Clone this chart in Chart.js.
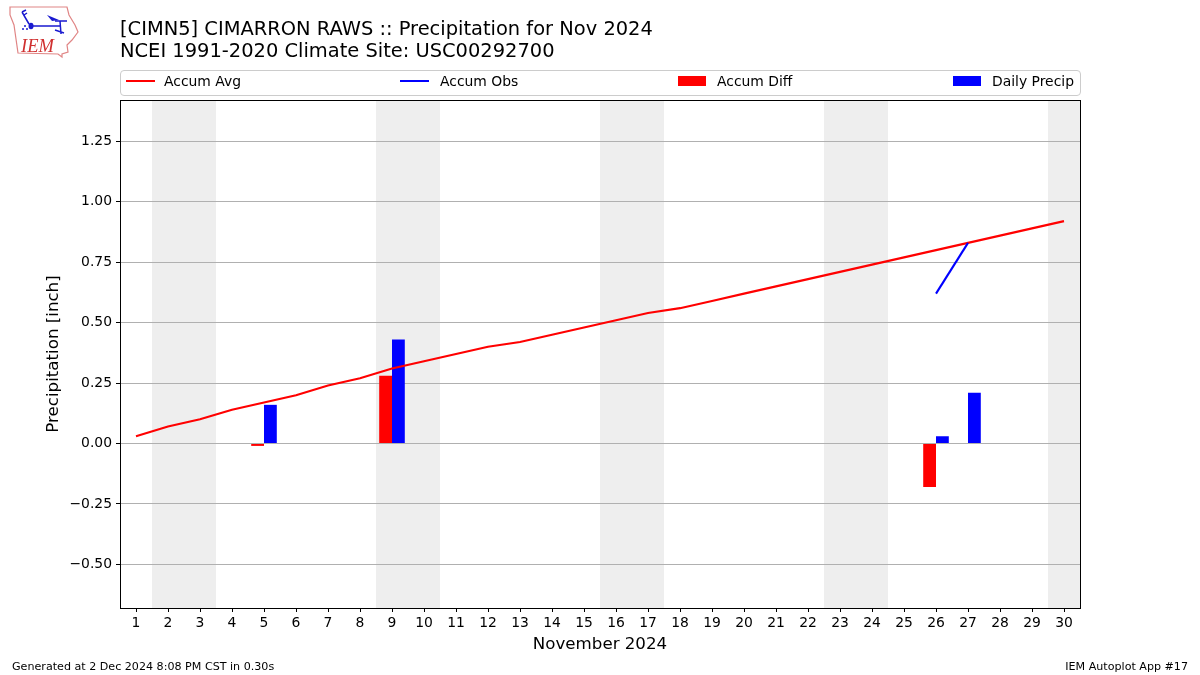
<!DOCTYPE html>
<html>
<head>
<meta charset="utf-8">
<title>CIMN5 Precipitation Nov 2024</title>
<script src="https://cdn.jsdelivr.net/npm/chart.js@4/dist/chart.umd.min.js"></script>
<style>
    body { margin: 0; background: #fff; font-family: "DejaVu Sans", sans-serif; color: #000; }
    #wrap { position: relative; width: 1200px; height: 675px; overflow: hidden; }
    #wrap canvas { position: absolute; left: 0; top: 0; }
    .abs { position: absolute; white-space: nowrap; }
    .title { left: 120px; font-size: 19.45px; line-height: 22px; }
    .foot { top: 660px; font-size: 11.11px; line-height: 13px; }
    #legend { left: 120px; top: 70px; width: 959px; height: 24px; border: 1px solid #ccc; border-radius: 4px; }
    .key { position: absolute; top: 2px; font-size: 13.9px; line-height: 17px; }
    .swatch { position: absolute; }
</style>
</head>
<body>
<div id="wrap">
    <canvas id="chart" width="1200" height="675"></canvas>

    <svg class="abs" style="left:0;top:0" width="90" height="62">
        <path d="M10 7 L67 7 L69 15 L75 25 L78 32 L72 40 L67 45 L68 52 L62 54 L62 57 L58 54 L18 53 L16 39 L14 25 L10 15 Z" fill="none" stroke="#e08585" stroke-width="1.2"/>
        <path d="M31 26 L60 26 M55 21 L67 21 M60 21 L61 34 M55 30 L64 33 M22 12 L29 24 M22 12 L26 10 M24 15 L27 13" stroke="#1a1ad0" stroke-width="1.5" fill="none"/>
        <path d="M47 15 L59 20 L52 21 Z" fill="#1a1ad0"/>
        <ellipse cx="31" cy="26" rx="2.5" ry="3.2" fill="#1a1ad0"/>
        <circle cx="25" cy="26" r="1" fill="#1a1ad0"/>
        <circle cx="23" cy="29" r="1" fill="#1a1ad0"/>
        <circle cx="27" cy="29" r="1" fill="#1a1ad0"/>
        <text x="21" y="52" font-family="Liberation Serif" font-style="italic" font-size="18.5" fill="#d03030">IEM</text>
    </svg>

    <div class="abs title" style="top:18px">[CIMN5] CIMARRON RAWS :: Precipitation for Nov 2024</div>
    <div class="abs title" style="top:40px">NCEI 1991-2020 Climate Site: USC00292700</div>

    <div class="abs" id="legend">
        <div class="swatch" style="left:5px;top:9px;width:29px;height:2px;background:#f00"></div>
        <div class="key" style="left:43px">Accum Avg</div>
        <div class="swatch" style="left:279px;top:9px;width:29px;height:2px;background:#00f"></div>
        <div class="key" style="left:319px">Accum Obs</div>
        <div class="swatch" style="left:557px;top:5px;width:28px;height:10px;background:#f00"></div>
        <div class="key" style="left:596px">Accum Diff</div>
        <div class="swatch" style="left:832px;top:5px;width:28px;height:10px;background:#00f"></div>
        <div class="key" style="left:871px">Daily Precip</div>
    </div>

    <div class="abs foot" style="left:12px">Generated at 2 Dec 2024 8:08 PM CST in 0.30s</div>
    <div class="abs foot" style="right:12px">IEM Autoplot App #17</div>
</div>

<script>
const days = ["1", "2", "3", "4", "5", "6", "7", "8", "9", "10", "11", "12", "13", "14", "15",
    "16", "17", "18", "19", "20", "21", "22", "23", "24", "25", "26", "27", "28", "29", "30"];
const accumAvg = [0.03, 0.07, 0.10, 0.14, 0.17, 0.20, 0.24, 0.27, 0.31, 0.34, 0.37, 0.40, 0.42, 0.45, 0.48,
    0.51, 0.54, 0.56, 0.59, 0.62, 0.65, 0.68, 0.71, 0.74, 0.77, 0.80, 0.83, 0.86, 0.89, 0.92];
const accumObs = [null, null, null, null, null, null, null, null, null, null, null, null, null, null, null,
    null, null, null, null, null, null, null, null, null, null, 0.62, 0.83, null, null, null];
const accumDiff = [null, null, null, null, -0.01, null, null, null, 0.28, null, null, null, null, null, null,
    null, null, null, null, null, null, null, null, null, null, -0.18, null, null, null, null];
const dailyPrecip = [null, null, null, null, 0.16, null, null, null, 0.43, null, null, null, null, null, null,
    null, null, null, null, null, null, null, null, null, null, 0.03, 0.21, null, null, null];
const weekends = [["2", "3"], ["9", "10"], ["16", "17"], ["23", "24"], ["30", "30"]];

const FONT = "'DejaVu Sans'";
Chart.defaults.color = "#000";
Chart.defaults.font.family = FONT;

// grey weekend bands go under the grid
const weekendBands = {
    id: "weekendBands",
    beforeDraw(chart) {
        const { ctx, chartArea, scales } = chart;
        const half = (scales.x.getPixelForValue(1) - scales.x.getPixelForValue(0)) / 2;
        ctx.save();
        ctx.fillStyle = "#eeeeee";
        weekends.forEach(([from, to]) => {
            const left = scales.x.getPixelForValue(days.indexOf(from)) - half;
            const right = Math.min(scales.x.getPixelForValue(days.indexOf(to)) + half, chartArea.right);
            ctx.fillRect(left, chartArea.top, right - left, chartArea.bottom - chartArea.top);
        });
        ctx.restore();
    }
};

const frame = {
    id: "frame",
    afterDraw(chart) {
        const { ctx, chartArea } = chart;
        ctx.save();
        ctx.strokeStyle = "#000";
        ctx.lineWidth = 1;
        ctx.strokeRect(chartArea.left + 0.5, chartArea.top + 0.5, chartArea.right - chartArea.left, chartArea.bottom - chartArea.top);
        ctx.restore();
    }
};

new Chart(document.getElementById("chart"), {
    type: "bar",
    data: {
        labels: days,
        datasets: [
            { type: "line", label: "Accum Avg", data: accumAvg, borderColor: "#f00", borderWidth: 2.1, pointRadius: 0, tension: 0, order: 1 },
            { type: "line", label: "Accum Obs", data: accumObs, borderColor: "#00f", borderWidth: 2.1, pointRadius: 0, tension: 0, order: 0 },
            { label: "Accum Diff", data: accumDiff, backgroundColor: "#f00", order: 2 },
            { label: "Daily Precip", data: dailyPrecip, backgroundColor: "#00f", order: 2 }
        ]
    },
    options: {
        responsive: false,
        animation: false,
        events: [],
        layout: { padding: { left: 44, right: 120, top: 100, bottom: 0 } },
        datasets: { bar: { categoryPercentage: 0.8, barPercentage: 1 } },
        plugins: { legend: { display: false }, tooltip: { enabled: false } },
        scales: {
            x: {
                offset: true,
                afterFit: scale => { scale.height = 67; },
                grid: { offset: false, drawOnChartArea: false, tickColor: "#000", tickLength: 4 },
                border: { display: false },
                ticks: { autoSkip: false, maxRotation: 0, padding: 3, font: { size: 13.9 } },
                title: { display: true, text: "November 2024", padding: { top: 4, bottom: 20 }, font: { size: 16.67 } }
            },
            y: {
                min: -0.6806,
                max: 1.4212,
                afterFit: scale => { scale.width = 76; },
                grid: { color: "#b0b0b0", tickColor: "#000", tickLength: 4 },
                border: { display: false },
                ticks: {
                    stepSize: 0.25,
                    includeBounds: false,
                    padding: 4,
                    font: { size: 13.9 },
                    callback: value => value.toFixed(2).replace("-", "\u2212")
                },
                title: { display: true, text: "Precipitation [inch]", padding: 0, font: { size: 16.67 } }
            }
        }
    },
    plugins: [weekendBands, frame]
});
</script>
</body>
</html>
